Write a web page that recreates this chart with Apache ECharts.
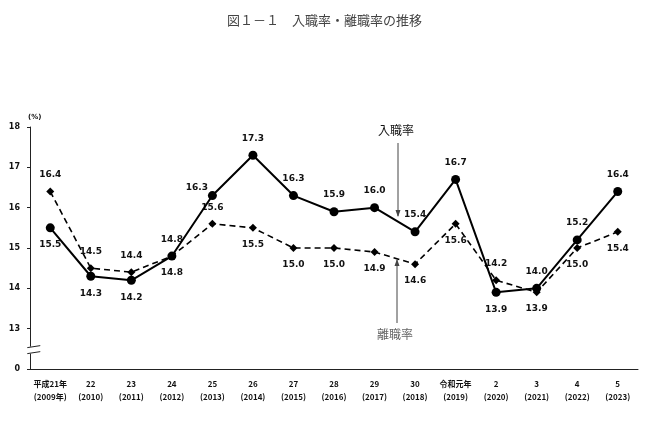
<!DOCTYPE html>
<html>
<head>
<meta charset="utf-8">
<script src="https://cdn.jsdelivr.net/npm/echarts@6/dist/echarts.min.js"></script>
<style>
  html, body { margin: 0; padding: 0; background: #fff; }
  #chart { width: 649px; height: 421px; }
</style>
</head>
<body>
<div id="chart"></div>
<script>
// 年（和暦・西暦）
var years = ['平成21年\n(2009年)', '22\n(2010)', '23\n(2011)', '24\n(2012)', '25\n(2013)',
  '26\n(2014)', '27\n(2015)', '28\n(2016)', '29\n(2017)', '30\n(2018)',
  '令和元年\n(2019)', '2\n(2020)', '3\n(2021)', '4\n(2022)', '5\n(2023)'];
// 入職率
var nyushoku = [15.5, 14.3, 14.2, 14.8, 16.3, 17.3, 16.3, 15.9, 16.0, 15.4, 16.7, 13.9, 14.0, 15.2, 16.4];
// 離職率
var rishoku = [16.4, 14.5, 14.4, 14.8, 15.6, 15.5, 15.0, 15.0, 14.9, 14.6, 15.6, 14.2, 13.9, 15.0, 15.4];
// ラベルの位置
var nyuPos = ['bottom', 'bottom', 'bottom', 'bottom', 'left', 'top', 'top', 'top', 'top', 'top', 'top', 'bottom', 'top', 'top', 'top'];
var riPos = ['top', 'top', 'top', 'top', 'top', 'bottom', 'bottom', 'bottom', 'bottom', 'bottom', 'bottom', 'top', 'bottom', 'bottom', 'bottom'];

var labelFont = { fontFamily: 'DejaVu Sans', fontWeight: 'bold', fontSize: 9, color: '#111' };

function makeData(vals, pos) {
  return vals.map(function (v, i) {
    var lb = { position: pos[i], distance: 8 };
    if (pos[i] === 'left') { lb.offset = [2, -8]; lb.distance = 2; }
    return { value: v, label: lb };
  });
}

var myChart = echarts.init(document.getElementById('chart'));
var option = {
  animation: false,
  title: {
    text: '図１－１　入職率・離職率の推移',
    left: 'center',
    top: 9,
    textStyle: { fontFamily: 'Noto Sans CJK JP', fontWeight: 'normal', fontSize: 13, color: '#444' }
  },
  grid: { left: 30, right: 11, top: 127, bottom: 52 },
  xAxis: {
    type: 'category',
    data: years,
    axisLine: { lineStyle: { color: '#222', width: 1 } },
    axisTick: { alignWithLabel: true, length: 3, lineStyle: { color: '#222' } },
    axisLabel: {
      interval: 0, margin: 8, lineHeight: 13,
      fontFamily: 'Noto Sans CJK JP', fontWeight: 'bold', fontSize: 8, color: '#111'
    }
  },
  yAxis: {
    type: 'value',
    min: 12, max: 18, interval: 1,
    name: '(%)',
    nameGap: 6,
    nameTextStyle: { fontFamily: 'DejaVu Sans', fontWeight: 'bold', fontSize: 7, color: '#111', align: 'left', padding: [0, 0, 0, -2] },
    splitLine: { show: false },
    axisLine: { show: true, lineStyle: { color: '#222', width: 1 } },
    axisTick: { show: true, length: 3, lineStyle: { color: '#222' } },
    axisLabel: {
      margin: 10,
      fontFamily: 'DejaVu Sans', fontWeight: 'bold', fontSize: 8, color: '#111',
      formatter: function (v) { return v === 12 ? '0' : String(v); }
    }
  },
  series: [
    {
      name: '入職率',
      type: 'line',
      data: makeData(nyushoku, nyuPos),
      symbol: 'circle',
      symbolSize: 9,
      itemStyle: { color: '#000' },
      lineStyle: { color: '#000', width: 2 },
      label: {
        show: true,
        formatter: function (p) { return p.value.toFixed(1); },
        fontFamily: labelFont.fontFamily, fontWeight: labelFont.fontWeight,
        fontSize: labelFont.fontSize, color: labelFont.color
      },
      z: 3
    },
    {
      name: '離職率',
      type: 'line',
      data: makeData(rishoku, riPos),
      symbol: 'diamond',
      symbolSize: 8,
      itemStyle: { color: '#000' },
      lineStyle: { color: '#000', width: 1.6, type: [6, 4] },
      label: {
        show: true,
        formatter: function (p) { return p.value.toFixed(1); },
        fontFamily: labelFont.fontFamily, fontWeight: labelFont.fontWeight,
        fontSize: labelFont.fontSize, color: labelFont.color
      },
      z: 2
    }
  ]
};
myChart.setOption(option);

// 注記と軸の省略記号
var p29 = myChart.convertToPixel({ xAxisIndex: 0, yAxisIndex: 0 }, [8, 12]);
var p30 = myChart.convertToPixel({ xAxisIndex: 0, yAxisIndex: 0 }, [9, 12]);
var ax = Math.round(p29[0] + (p30[0] - p29[0]) * 0.57);
var y0 = myChart.convertToPixel({ yAxisIndex: 0 }, 12);
var y13 = myChart.convertToPixel({ yAxisIndex: 0 }, 13);
var gx = myChart.convertToPixel({ xAxisIndex: 0 }, 0) - 19;
var bY = y13 + (y0 - y13) * 0.52;

myChart.setOption({
  graphic: [
    { type: 'text', left: ax - 20, top: 124, style: { text: '入職率', font: '12px "Noto Sans CJK JP"', fill: '#111' } },
    { type: 'line', shape: { x1: ax, y1: 143, x2: ax, y2: 216 }, style: { stroke: '#444', lineWidth: 1 } },
    { type: 'polygon', shape: { points: [[ax - 2.5, 210], [ax + 2.5, 210], [ax, 217]] }, style: { fill: '#444' } },
    { type: 'text', left: ax - 21, top: 328, style: { text: '離職率', font: '12px "Noto Sans CJK JP"', fill: '#666' } },
    { type: 'line', shape: { x1: ax - 1, y1: 323, x2: ax - 1, y2: 260 }, style: { stroke: '#444', lineWidth: 1 } },
    { type: 'polygon', shape: { points: [[ax - 3.5, 266], [ax + 1.5, 266], [ax - 1, 259]] }, style: { fill: '#444' } },
    { type: 'rect', shape: { x: gx - 2, y: bY - 3, width: 5, height: 7 }, style: { fill: '#fff' }, z: 50 },
    { type: 'line', shape: { x1: gx - 4, y1: bY - 2, x2: gx + 9, y2: bY - 4 }, style: { stroke: '#222', lineWidth: 1 }, z: 51 },
    { type: 'line', shape: { x1: gx - 4, y1: bY + 4, x2: gx + 9, y2: bY + 2 }, style: { stroke: '#222', lineWidth: 1 }, z: 51 }
  ]
});
</script>
</body>
</html>
